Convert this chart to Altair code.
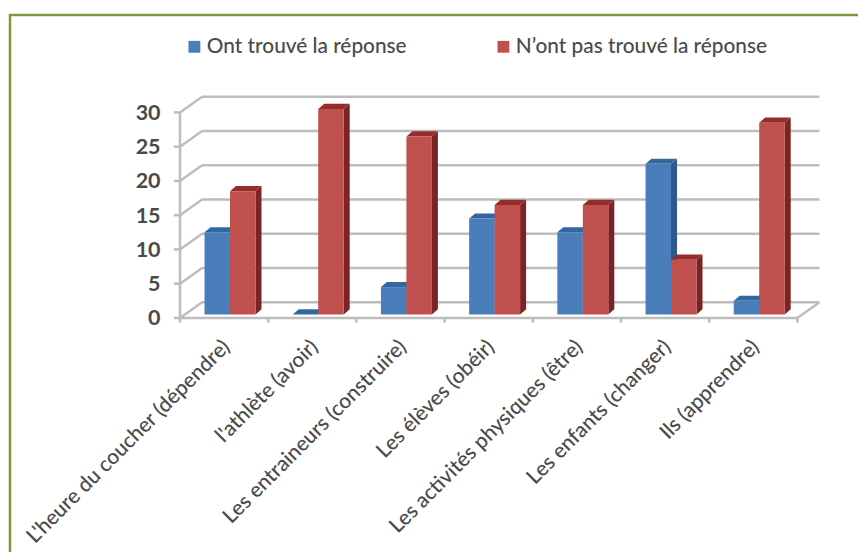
import altair as alt
import pandas as pd

# Survey results per subject/verb pair
categories = [
    "L'heure du coucher (dépendre)",
    "l'athlète (avoir)",
    "Les entraineurs (construire)",
    "Les élèves (obéir)",
    "Les activités physiques (être)",
    "Les enfants (changer)",
    "Ils (apprendre)",
]
found = [12, 0, 4, 14, 12, 22, 2]
not_found = [18, 30, 26, 16, 16, 8, 28]
series_names = ["Ont trouvé la réponse", "N’ont pas trouvé la réponse"]
y_ticks = [0, 5, 10, 15, 20, 25, 30]

FONT = "Lato"
TEXT = "#4a4a4a"
GRID = "#bdbdbd"

# Oblique projection, all in data units: x counts categories, y counts answers
BAR_W = 0.289
GROUP_SHIFT = 0.567
BAR_DX, BAR_DY = 0.068, 0.75
WALL_DX = 0.25
FRONT_Y, BACK_Y = -0.5, 1.8
N = len(categories)

x_scale = alt.Scale(domain=[-180 / 88.2, 678 / 88.2], range=[0, 858], nice=False, zero=False)
y_scale = alt.Scale(domain=[-237.5 / 6.85, 314.5 / 6.85], range=[552, 0], nice=False, zero=False)
X = lambda f: alt.X(f"{f}:Q", scale=x_scale, axis=None)
Y = lambda f: alt.Y(f"{f}:Q", scale=y_scale, axis=None)

# Wall, floor and tick geometry
walls = []
for v in y_ticks:
    walls.append(dict(x=WALL_DX, x2=N + WALL_DX, y=v + BACK_Y, y2=v + BACK_Y))  # back wall
    walls.append(dict(x=0, x2=WALL_DX, y=v + FRONT_Y, y2=v + BACK_Y))            # side wall
    walls.append(dict(x=-0.07, x2=0, y=v + FRONT_Y, y2=v + FRONT_Y))             # tick
walls.append(dict(x=0, x2=0, y=FRONT_Y, y2=30 + FRONT_Y))
walls.append(dict(x=0, x2=N, y=FRONT_Y, y2=FRONT_Y))
walls.append(dict(x=N, x2=N + WALL_DX, y=FRONT_Y, y2=BACK_Y))
for i in range(N + 1):
    walls.append(dict(x=i, x2=i, y=FRONT_Y, y2=FRONT_Y - 0.7))

wall_layer = alt.Chart(pd.DataFrame(walls)).mark_rule(color=GRID, strokeWidth=2.5).encode(
    x=X("x"), x2="x2:Q", y=Y("y"), y2="y2:Q"
)

# The three visible faces of each bar
fronts, sides, tops = [], [], []
for s, (name, values) in enumerate(zip(series_names, [found, not_found])):
    for i, v in enumerate(values):
        x0 = i + GROUP_SHIFT + (s - 1) * BAR_W
        x1 = x0 + BAR_W
        key = f"{s}-{i}"
        fronts.append(dict(series=name, s=s, x=x0, x2=x1, y=0, y2=v))
        tops.append(dict(key=key, s=s, y=v, x=x0, x2=x1))
        tops.append(dict(key=key, s=s, y=v + BAR_DY, x=x0 + BAR_DX, x2=x1 + BAR_DX))
        sides.append(dict(key=key, s=s, x=x1, y=0, y2=v))
        sides.append(dict(key=key, s=s, x=x1 + BAR_DX, y=BAR_DY, y2=v + BAR_DY))

fronts = pd.DataFrame(fronts)
sides = pd.DataFrame(sides)
tops = pd.DataFrame(tops)

FRONT_COL = ["#4a7ebb", "#c0504d"]
SIDE_COL = ["#2c5a90", "#7a2523"]
TOP_COL = ["#33689f", "#962d2a"]

bar_layers = []
for s in range(2):
    side = alt.Chart(sides[sides.s == s]).mark_area(color=SIDE_COL[s], orient="vertical").encode(
        x=X("x"), y=Y("y"), y2="y2:Q", detail="key:N"
    )
    top = alt.Chart(tops[tops.s == s]).mark_area(color=TOP_COL[s], orient="horizontal").encode(
        y=Y("y"), x=X("x"), x2="x2:Q", detail="key:N"
    )
    front = alt.Chart(fronts[fronts.s == s]).mark_rect().encode(
        x=X("x"), x2="x2:Q", y=Y("y"), y2="y2:Q",
        color=alt.Color(
            "series:N",
            scale=alt.Scale(domain=series_names, range=FRONT_COL),
            legend=alt.Legend(
                title=None, orient="none", legendX=184, legendY=36, direction="horizontal",
                columns=2, columnPadding=86, symbolType="square", symbolSize=140,
                symbolStrokeWidth=0, labelFont=FONT, labelFontSize=20.8, labelColor=TEXT,
                labelFontWeight=500, labelLimit=400, symbolOffset=0, labelOffset=2,
            ),
        ),
    )
    bar_layers += [side, top, front]

# Value labels on the left
tick_df = pd.DataFrame({"y": [v + FRONT_Y for v in y_ticks], "label": [str(v) for v in y_ticks], "x": [-0.22] * len(y_ticks)})
tick_text = alt.Chart(tick_df).mark_text(
    align="right", baseline="middle", font=FONT, fontSize=21.5, fontWeight=700, color=TEXT, dy=1.5
).encode(x=X("x"), y=Y("y"), text="label:N")

# Slanted category labels
cat_df = pd.DataFrame({"x": [i + 0.53 for i in range(N)], "y": [-4.3] * N, "label": categories})
cat_text = alt.Chart(cat_df).mark_text(
    align="right", baseline="middle", angle=315, font=FONT, fontSize=21, fontWeight=500, color=TEXT
).encode(x=X("x"), y=Y("y"), text="label:N")

# Green frame along the top and left edges of the card
frame_top = alt.Chart(pd.DataFrame({"c": [0]})).mark_rule(color="#7a9a3c", strokeWidth=2.5).encode(
    x=alt.value(9), x2=alt.value(858), y=alt.value(15)
)
frame_left = alt.Chart(pd.DataFrame({"c": [0]})).mark_rule(color="#7a9a3c", strokeWidth=2.5).encode(
    x=alt.value(10), y=alt.value(14), y2=alt.value(552)
)

chart = alt.layer(
    frame_top, frame_left, wall_layer, *bar_layers, tick_text, cat_text
).properties(
    width=858, height=552, padding=0, autosize=alt.AutoSizeParams(type="none"), background="white"
).configure_view(stroke=None)

chart.save("out.html", embed_options={"renderer": "svg", "actions": False})
